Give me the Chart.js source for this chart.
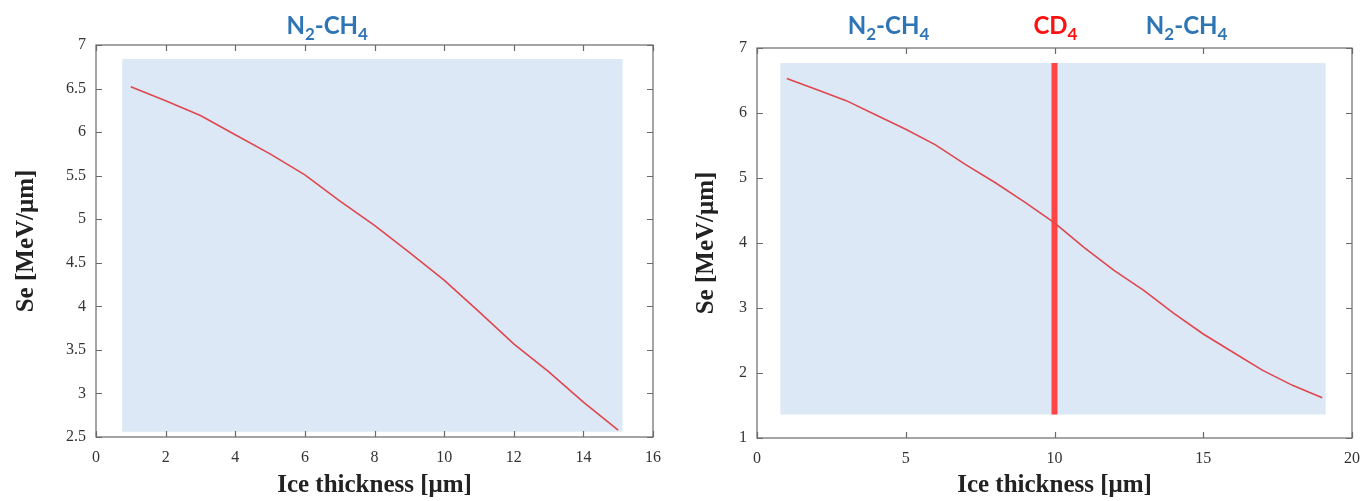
<!DOCTYPE html>
<html>
<head>
<meta charset="utf-8">
<script src="https://cdn.jsdelivr.net/npm/chart.js@4/dist/chart.umd.min.js"></script>
<style>
  body { margin: 0; background: #fff; overflow: hidden; }
  .box { position: absolute; top: 0; height: 501px; }
</style>
</head>
<body>
<div class="box" style="left:0px; width:680px"><canvas id="chartLeft"></canvas></div>
<div class="box" style="left:684px; width:687px"><canvas id="chartRight"></canvas></div>
<script>
// data
var thicknessLeft = [1, 2, 3, 4, 5, 6, 7, 8, 9, 10, 11, 12, 13, 14, 15];
var seLeft = [6.52, 6.36, 6.19, 5.97, 5.75, 5.51, 5.21, 4.93, 4.62, 4.30, 3.94, 3.57, 3.25, 2.90, 2.58];

var thicknessRight = [1, 2, 3, 4, 5, 6, 7, 8, 9, 10, 11, 12, 13, 14, 15, 16, 17, 18, 19];
var seRight = [6.53, 6.36, 6.19, 5.97, 5.75, 5.51, 5.21, 4.93, 4.63, 4.31, 3.93, 3.58, 3.27, 2.92, 2.60, 2.32, 2.04, 1.81, 1.62];

var xTicksLeft = [0, 2, 4, 6, 8, 10, 12, 14, 16];
var yTicksLeft = [2.5, 3, 3.5, 4, 4.5, 5, 5.5, 6, 6.5, 7];
var xTicksRight = [0, 5, 10, 15, 20];
var yTicksRight = [1, 2, 3, 4, 5, 6, 7];

// shaded ice region (x range, y range)
var bandLeftX = [0.75, 15.13];
var bandLeftY = [2.56, 6.84];
var bandRightX = [0.78, 19.12];
var bandRightY = [1.36, 6.77];

// CD4 layer position
var cd4X = 10;

// layer labels over the plots (x position in data units)
var labelsLeft = [{ x: 6.64, text: "N_2-CH_4", color: "#2e75b6" }];
var labelsRight = [
  { x: 4.42, text: "N_2-CH_4", color: "#2e75b6" },
  { x: 10.03, text: "CD_4", color: "#ff1010" },
  { x: 14.44, text: "N_2-CH_4", color: "#2e75b6" }
];

var serif = "'Liberation Serif', 'DejaVu Serif', serif";
var sans = "Lato, 'Open Sans', sans-serif";

function splitSub(text) {
  // "N_2-CH_4" -> [["N",0],["2",1],["-CH",0],["4",1]]
  var parts = [];
  var cur = "";
  for (var i = 0; i < text.length; i++) {
    if (text[i] === "_") {
      if (cur) parts.push([cur, 0]);
      parts.push([text[i + 1], 1]);
      cur = "";
      i++;
    } else {
      cur += text[i];
    }
  }
  if (cur) parts.push([cur, 0]);
  return parts;
}

var boxPlugin = {
  id: "boxPlugin",
  afterDatasetsDraw: function (chart, args, opts) {
    var ctx = chart.ctx;
    var a = chart.chartArea;
    var xs = chart.scales.x, ys = chart.scales.y;
    ctx.save();
    ctx.strokeStyle = "#6a6a6a";
    ctx.lineWidth = 1.2;
    ctx.strokeRect(a.left, a.top, a.right - a.left, a.bottom - a.top);
    var len = 6;
    ctx.beginPath();
    opts.xTicks.forEach(function (v) {
      var px = Math.round(xs.getPixelForValue(v)) + 0.5;
      ctx.moveTo(px, a.bottom); ctx.lineTo(px, a.bottom - len);
      ctx.moveTo(px, a.top); ctx.lineTo(px, a.top + len);
    });
    opts.yTicks.forEach(function (v) {
      var py = Math.round(ys.getPixelForValue(v)) + 0.5;
      ctx.moveTo(a.left, py); ctx.lineTo(a.left + len, py);
      ctx.moveTo(a.right, py); ctx.lineTo(a.right - len, py);
    });
    ctx.stroke();

    // layer labels with subscripts
    opts.labels.forEach(function (lab) {
      var parts = splitSub(lab.text);
      var big = "bold 24px " + sans, small = "bold 17px " + sans;
      var w = 0;
      parts.forEach(function (p) { ctx.font = p[1] ? small : big; w += ctx.measureText(p[0]).width; });
      var x = xs.getPixelForValue(lab.x) - w / 2;
      var base = 34;
      ctx.fillStyle = lab.color;
      ctx.textBaseline = "alphabetic";
      ctx.textAlign = "left";
      parts.forEach(function (p) {
        ctx.font = p[1] ? small : big;
        ctx.fillText(p[0], x, p[1] ? base + 6 : base);
        x += ctx.measureText(p[0]).width;
      });
    });
    ctx.restore();
  }
};

function makeChart(id, xs, ys, xTicks, yTicks, bandX, bandY, labels, extra, geo) {
  var datasets = [
    {
      data: [{ x: bandX[0], y: bandY[1] }, { x: bandX[1], y: bandY[1] }],
      borderWidth: 0,
      pointRadius: 0,
      backgroundColor: "#dce8f5",
      fill: { value: bandY[0] },
      order: 3
    },
    {
      data: xs.map(function (v, i) { return { x: v, y: ys[i] }; }),
      borderColor: "#e0464e",
      borderWidth: 1.6,
      pointRadius: 0,
      fill: false,
      tension: 0,
      order: 1
    }
  ];
  if (extra) datasets.push(extra);

  return new Chart(document.getElementById(id).getContext("2d"), {
    type: "line",
    data: { datasets: datasets },
    options: {
      responsive: false,
      animation: false,
      devicePixelRatio: 1,
      layout: { padding: { left: 0, right: geo.right, top: geo.top, bottom: 0 } },
      plugins: {
        legend: { display: false },
        tooltip: { enabled: false },
        boxPlugin: { xTicks: xTicks, yTicks: yTicks, labels: labels }
      },
      scales: {
        x: {
          type: "linear",
          min: xTicks[0],
          max: xTicks[xTicks.length - 1],
          afterBuildTicks: function (s) { s.ticks = xTicks.map(function (v) { return { value: v }; }); },
          afterFit: function (s) { s.height = geo.xh; },
          grid: { display: false, drawTicks: false },
          border: { display: false },
          ticks: {
            padding: 11, color: "#333", font: { family: serif, size: 16 },
            callback: function (v) { return String(v); }
          },
          title: {
            display: true,
            text: "Ice thickness [μm]",
            color: "#222",
            padding: { top: 0, bottom: 0 },
            font: { family: serif, size: 25, weight: "bold" }
          }
        },
        y: {
          type: "linear",
          min: yTicks[0],
          max: yTicks[yTicks.length - 1],
          afterBuildTicks: function (s) { s.ticks = yTicks.map(function (v) { return { value: v }; }); },
          afterFit: function (s) { s.width = geo.yw; },
          grid: { display: false, drawTicks: false },
          border: { display: false },
          ticks: {
            padding: 10, color: "#333", font: { family: serif, size: 16 },
            callback: function (v) { return String(v); }
          },
          title: {
            display: true,
            text: "Se [MeV/μm]",
            color: "#222",
            padding: { top: geo.ytp, bottom: 0 },
            font: { family: serif, size: 25, weight: "bold" }
          }
        }
      }
    },
    plugins: [boxPlugin]
  });
}

function load() {
  var cl = document.getElementById("chartLeft");
  cl.width = 680; cl.height = 501;
  var cr = document.getElementById("chartRight");
  cr.width = 687; cr.height = 501;

  makeChart("chartLeft", thicknessLeft, seLeft, xTicksLeft, yTicksLeft, bandLeftX, bandLeftY, labelsLeft, null,
    { right: 27, top: 45, xh: 64, yw: 96, ytp: 12 });

  var cd4Line = {
    data: [{ x: cd4X, y: bandRightY[0] }, { x: cd4X, y: bandRightY[1] }],
    borderColor: "#ff4545",
    borderWidth: 6,
    pointRadius: 0,
    fill: false,
    order: 2
  };
  makeChart("chartRight", thicknessRight, seRight, xTicksRight, yTicksRight, bandRightX, bandRightY, labelsRight, cd4Line,
    { right: 5, top: 48, xh: 63, yw: 73, ytp: 8 });
}

document.addEventListener("DOMContentLoaded", load, false);
</script>
</body>
</html>
